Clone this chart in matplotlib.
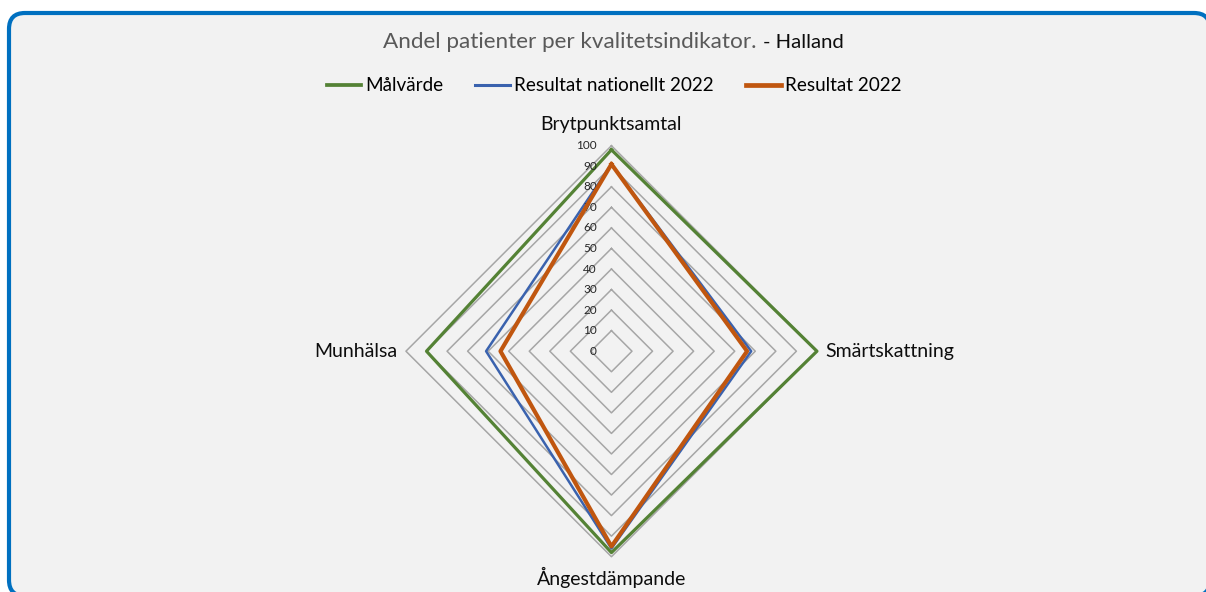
import numpy as np
import matplotlib.pyplot as plt
from matplotlib.patches import FancyBboxPatch

# Data
categories = ["Brytpunktsamtal", "Smärtskattning", "Ångestdämpande", "Munhälsa"]
malvarde = [98, 100, 98, 90]
nationellt_2022 = [91, 68, 96, 61]
resultat_2022 = [91, 66, 95, 54]
ring_levels = [10, 20, 30, 40, 50, 60, 70, 80, 90, 100]
tick_labels = ["0", "10", "20", "30", "40", "50", "60", "70", "80", "90", "100"]

plt.rcParams['font.family'] = ['Lato', 'DejaVu Sans']

fig = plt.figure(figsize=(12.06, 5.92), dpi=100)
fig.patch.set_facecolor('white')

# rounded chart-area border (behind the axes)
frame = FancyBboxPatch((0.09, -0.04), 12.01, 5.83,
                       boxstyle="round,pad=0,rounding_size=0.16",
                       transform=fig.dpi_scale_trans,
                       facecolor='#f2f2f2', edgecolor='#0070c0', linewidth=3, zorder=-5)
fig.patches.append(frame)

ax = fig.add_axes([0.3366, 0.0596, 0.3408, 0.6943], projection='polar')
ax.set_zorder(2)
ax.set_theta_zero_location('N')
ax.set_theta_direction(-1)
ax.patch.set_visible(False)
ax.spines['polar'].set_visible(False)
ax.grid(False)
ax.set_xticks([])
ax.set_yticks([])
ax.set_ylim(0, 100)

angles = np.deg2rad([0, 90, 180, 270])
closed = np.append(angles, angles[0])

# polygon grid rings
for lvl in ring_levels:
    ax.plot(closed, [lvl] * 5, color='#a6a6a6', lw=1.1, zorder=1, clip_on=False)

def close(v):
    return list(v) + [v[0]]

ax.plot(closed, close(malvarde), color='#548235', lw=2.3, label='Målvärde', zorder=3, clip_on=False)
ax.plot(closed, close(nationellt_2022), color='#3a62ae', lw=1.8, label='Resultat nationellt 2022', zorder=3, clip_on=False)
ax.plot(closed, close(resultat_2022), color='#c0560f', lw=3.0, label='Resultat 2022', zorder=4, clip_on=False)

# radial value labels
for i, lab in enumerate(tick_labels):
    ax.annotate(lab, xy=(0, i * 10), xytext=(-10.5, 0), textcoords='offset points',
                ha='right', va='center', fontsize=8.5, color='#262626',
                annotation_clip=False)

# category labels
offsets = [(0, 9.5, 'center', 'bottom'), (6, 0, 'left', 'center'),
           (0, -7, 'center', 'top'), (-6, 0, 'right', 'center')]
for ang, cat, (dx, dy, ha, va) in zip(angles, categories, offsets):
    ax.annotate(cat, xy=(ang, 100), xytext=(dx, dy), textcoords='offset points',
                ha=ha, va=va, fontsize=14, color='#0d0d0d', annotation_clip=False)

# title in two colours
fig.text(0.6269, 0.929, "Andel patienter per kvalitetsindikator.", ha='right', va='center',
         fontsize=16.2, color='#595959')
fig.text(0.6327, 0.929, "- Halland", ha='left', va='center', fontsize=14.6, color='#0d0d0d')

leg = fig.legend(loc='center', bbox_to_anchor=(0.509, 0.855), ncol=3, frameon=False,
                 fontsize=13.6, handlelength=1.85, handletextpad=0.2, columnspacing=1.7)
for line in leg.get_lines():
    line.set_linewidth(line.get_linewidth() + 0.4)

fig.savefig('out.png', dpi=100, facecolor=fig.get_facecolor())
